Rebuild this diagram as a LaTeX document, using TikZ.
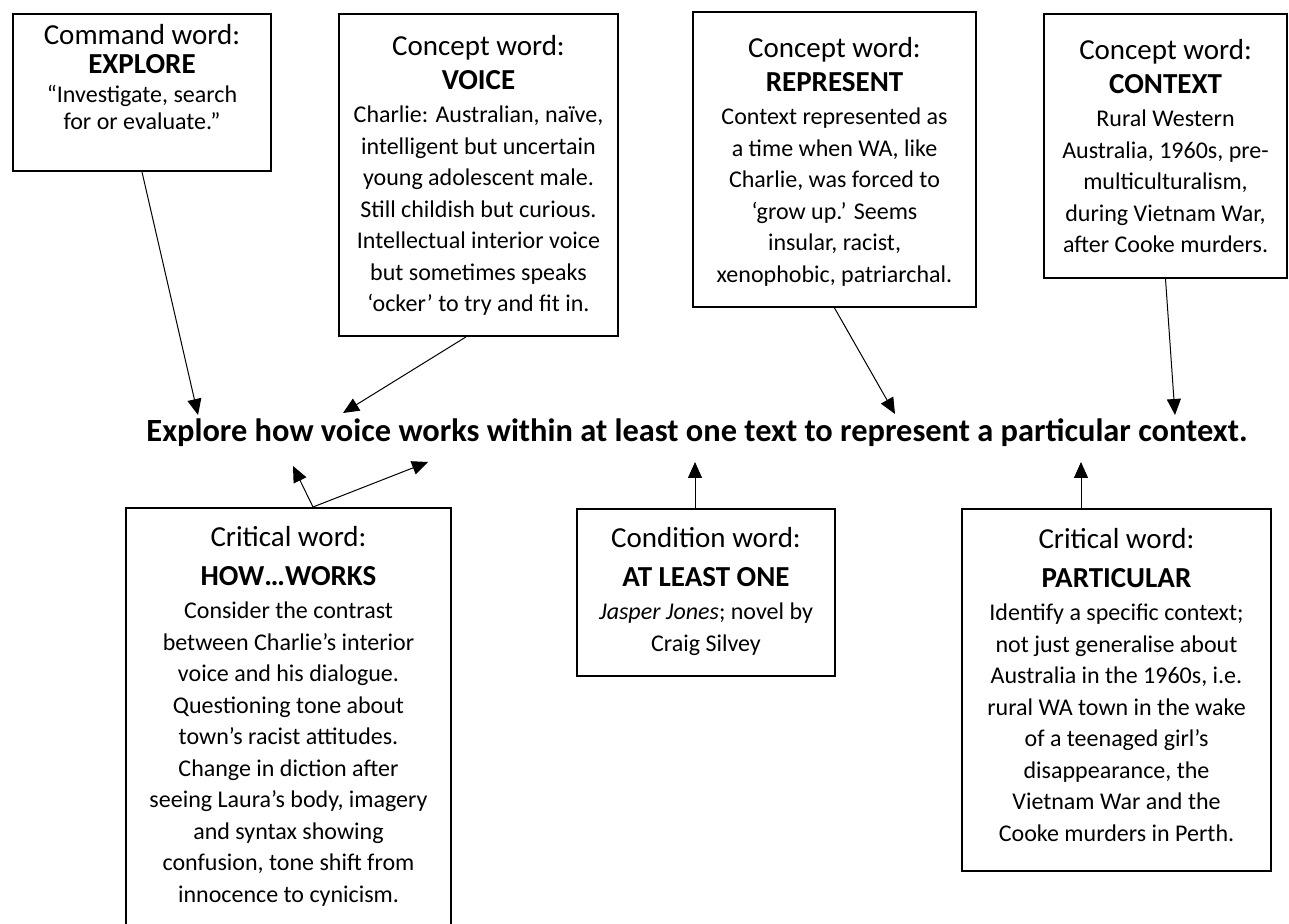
\documentclass[tikz,border=0pt]{standalone}
\usepackage{fontspec}
\setmainfont{Carlito}
\usetikzlibrary{calc, arrows.meta}

\newcommand{\hdr}{\fontsize{14.5}{17}\selectfont}
\newcommand{\bdy}{\fontsize{12}{15.75}\selectfont}
% [spread]{width}{height}{top gap}{heading}{body}
\newcommand{\wordcard}[6][1]{%
	\parbox[t][#3][t]{#2}{\linespread{#1}\centering\vspace*{#4}%
		{\hdr #5\par}\vspace{1pt}{\bdy #6\par}}}

\begin{document}
\begin{tikzpicture}[x=0.5pt, y=-0.5pt,
		card/.style={draw, line width=1pt, anchor=north west, inner sep=0pt},
		link/.style={line width=0.5pt, -{Triangle[length=8pt, width=7pt]}}]
		
		\useasboundingbox (0,0) rectangle (1289,924);
		\clip (0,0) rectangle (1289,924);
		
		% top row
		\node[card] (explore) at (12,13) {\wordcard[0.86]{129pt}{78.5pt}{5pt}{Command word:\\\textbf{EXPLORE}}{“Investigate, search\\for or evaluate.”}};
		\node[card] (voice) at (338,13) {\wordcard{139.5pt}{161pt}{10.5pt}{Concept word:\\\textbf{VOICE}}{Charlie: Australian, naïve,\\intelligent but uncertain\\young adolescent male.\\Still childish but curious.\\Intellectual interior voice\\but sometimes speaks\\‘ocker’ to try and fit in.}};
		\node[card] (represent) at (692,11) {\wordcard{141.5pt}{147.5pt}{12.5pt}{Concept word:\\\textbf{REPRESENT}}{Context represented as\\a time when WA, like\\Charlie, was forced to\\‘grow up.’ Seems\\insular, racist,\\xenophobic, patriarchal.}};
		\node[card] (context) at (1043,13) {\wordcard{121.5pt}{132pt}{12.5pt}{Concept word:\\\textbf{CONTEXT}}{Rural Western\\Australia, 1960s, pre-\\multiculturalism,\\during Vietnam War,\\after Cooke murders.}};
		
		% the question
		\node[font=\bfseries\fontsize{16.2}{19}\selectfont] (task) at (697,433) {Explore how voice works within at least one text to represent a particular context.};
		
		% bottom row
		\node[card] (works) at (125,507) {\wordcard{162.5pt}{225pt}{9pt}{Critical word:\\[2.5pt]\textbf{HOW…WORKS}}{Consider the contrast\\between Charlie’s interior\\voice and his dialogue.\\Questioning tone about\\town’s racist attitudes.\\Change in diction after\\seeing Laura’s body, imagery\\and syntax showing\\confusion, tone shift from\\innocence to cynicism.}};
		\node[card] (least) at (576,508) {\wordcard{129pt}{83.5pt}{9pt}{Condition word:\\[2.5pt]\textbf{AT LEAST ONE}}{\textit{Jasper Jones}; novel by\\Craig Silvey}};
		\node[card] (particular) at (961,508) {\wordcard{154.5pt}{181pt}{9.5pt}{Critical word:\\[2.5pt]\textbf{PARTICULAR}}{Identify a specific context;\\not just generalise about\\Australia in the 1960s, i.e.\\rural WA town in the wake\\of a teenaged girl’s\\disappearance, the\\Vietnam War and the\\Cooke murders in Perth.}};
		
		% arrow tips above and below the question
		\coordinate (tip explore) at (198,415);
		\coordinate (tip voice) at (343,413);
		\coordinate (tip represent) at (895,414);
		\coordinate (tip context) at (1175,415);
		\coordinate (tip how) at (293,466);
		\coordinate (tip works) at (428,462);
		\coordinate (tip least) at (695,462);
		\coordinate (tip particular) at (1081,462);
		
		\draw[link] (explore.south) -- (tip explore);
		\draw[link] ($(voice.south west)!0.455!(voice.south east)$) -- (tip voice);
		\draw[link] (represent.south) -- (tip represent);
		\draw[link] (context.south) -- (tip context);
		
		\draw[link] ($(works.north west)!0.575!(works.north east)$) coordinate (works top) -- (tip how);
		\draw[link] (works top) -- (tip works);
		\draw[link] (least.north -| tip least) -- (tip least);
		\draw[link] (particular.north -| tip particular) -- (tip particular);
	\end{tikzpicture}
\end{document}
